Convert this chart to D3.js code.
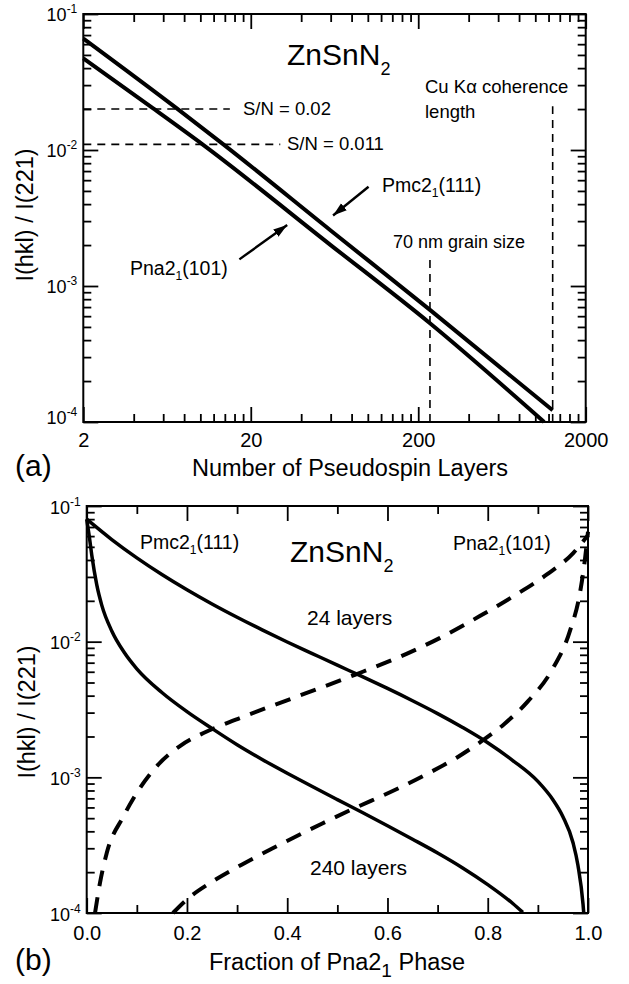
<!DOCTYPE html>
<html>
<head>
<meta charset="utf-8">
<script src="https://cdn.jsdelivr.net/npm/d3@7"></script>
<style>
	body { margin: 0; background: #fff; }
	svg text { font-family: "Liberation Sans", Arial, sans-serif; fill: #000; }
</style>
</head>
<body>
<svg id="fig" width="629" height="984"></svg>
<script>
// ---- (a) I(hkl)/I(221) vs number of pseudospin layers
const pmcLayers = [2, 7.2, 13.6, 60, 235, 1270];
const pmcRatio  = [0.066, 0.0203, 0.0111, 0.00256, 0.000667, 0.000122];
const pnaLayers = [2, 5.2, 10.3, 60, 235, 1130];
const pnaRatio  = [0.0472, 0.0203, 0.011, 0.0020, 0.000532, 0.0001];

const snLevels = [0.02, 0.011];
const snLabels = ["S/N = 0.02", "S/N = 0.011"];
const snEnds   = [15, 30];

const grainLayers     = 235;   // 70 nm grain size
const grainTop        = 0.00155;
const coherenceLayers = 1270;  // Cu K-alpha coherence length
const coherenceTop    = 0.021;

const layerTicks  = [2, 20, 200, 2000];
const ratioTicks  = [1e-4, 1e-3, 1e-2, 1e-1];
const ratioExps   = ["-4", "-3", "-2", "-1"];

// ---- (b) I(hkl)/I(221) vs fraction of Pna21 phase
const fracPmc24 = [0, 0.05, 0.1, 0.15, 0.2, 0.25, 0.3, 0.35, 0.4, 0.45, 0.5, 0.55, 0.6, 0.65, 0.7, 0.75, 0.8, 0.85, 0.9, 0.93, 0.95, 0.97, 0.98, 0.99, 0.9915];
const pmc24     = [0.0800, 0.0566, 0.0415, 0.0313, 0.02415, 0.01897, 0.01514, 0.01222, 0.00995, 0.00817, 0.00671, 0.00552, 0.00452, 0.00367, 0.00295, 0.00233, 0.0018, 0.00133, 0.000933, 0.000684, 0.000513, 0.000331, 0.000224, 0.000117, 0.0001];

const fracPmc240 = [0, 0.005, 0.01, 0.02, 0.03, 0.05, 0.075, 0.1, 0.15, 0.2, 0.25, 0.3, 0.35, 0.4, 0.45, 0.5, 0.55, 0.6, 0.65, 0.7, 0.75, 0.8, 0.85, 0.87];
const pmc240     = [0.0800, 0.0603, 0.0437, 0.0263, 0.0186, 0.0120, 0.00832, 0.00631, 0.00422, 0.00305, 0.00229, 0.00174, 0.001355, 0.001072, 0.000855, 0.000685, 0.00055, 0.00044, 0.00035, 0.000277, 0.000215, 0.000162, 0.0001175, 0.000101];

const fracPna24 = [0.0166, 0.0265, 0.040, 0.073, 0.0997, 0.14, 0.186, 0.233, 0.27, 0.306, 0.372, 0.439, 0.535, 0.638, 0.705, 0.785, 0.851, 0.918, 0.971, 1.0];
const pna24     = [0.0001, 0.0001667, 0.000277, 0.000513, 0.000766, 0.00121, 0.0017, 0.00212, 0.00243, 0.00274, 0.00339, 0.00419, 0.0057, 0.00813, 0.01067, 0.0155, 0.0216, 0.0313, 0.0452, 0.061];

const fracPna240 = [0.172, 0.2, 0.25, 0.31, 0.37, 0.47, 0.535, 0.605, 0.671, 0.738, 0.789, 0.832, 0.88, 0.928, 0.964, 0.984, 0.994, 1.0];
const pna240     = [0.0001, 0.0001259, 0.00017, 0.000228, 0.0002985, 0.000457, 0.000594, 0.000776, 0.001023, 0.001396, 0.001862, 0.002455, 0.00363, 0.00617, 0.01202, 0.0229, 0.0407, 0.0646];

const fracTicks = [0, 0.2, 0.4, 0.6, 0.8, 1.0];
const fracMinor = [0.1, 0.3, 0.5, 0.7, 0.9];

const zip = (xs, ys) => xs.map((v, i) => [v, ys[i]]);

const logMinors = (lo, hi, base) => {
	let out = [];
	for (let d = lo; d < hi; d *= 10)
		for (let m = 2; m <= 9; m++) out.push(d * m * (base || 1));
	return out;
};

const svg = d3.select("#fig");

svg.append("defs").append("marker")
	.attr("id", "head")
	.attr("viewBox", "0 -5 14 10")
	.attr("refX", 14)
	.attr("refY", 0)
	.attr("markerUnits", "userSpaceOnUse")
	.attr("markerWidth", 14)
	.attr("markerHeight", 10)
	.attr("orient", "auto")
	.append("path")
	.attr("d", "M0,-4.5L14,0L0,4.5Z")
	.attr("fill", "#000");

// Box with inward ticks on all four sides
const Frame = ({ x, y, xMajor, xMinor, xFormat, xLabelY, yLabelDy }) => g => {
	const [x0, x1] = x.range();
	const [y0, y1] = y.range();

	const put = (axis, t, vals, size, fmt) => g.append("g")
		.attr("transform", t)
		.call(axis.tickValues(vals).tickSizeInner(-size).tickSizeOuter(0).tickFormat(fmt || (() => "")))
		.call(a => a.select(".domain").remove())
		.call(a => a.selectAll("line").attr("stroke-width", 1.8));

	const yMinor = logMinors(1e-4, 1e-1);

	let bx = put(d3.axisBottom(x), `translate(0,${y0})`, xMajor, 15, xFormat);
	bx.attr("font-family", null);
	bx.selectAll("text")
		.attr("font-size", 20)
		.attr("dy", null)
		.attr("y", xLabelY);
	put(d3.axisBottom(x), `translate(0,${y0})`, xMinor, 8);
	put(d3.axisTop(x), `translate(0,${y1})`, xMajor, 15);
	put(d3.axisTop(x), `translate(0,${y1})`, xMinor, 8);

	let ly = put(d3.axisLeft(y), `translate(${x0},0)`, ratioTicks, 15, d => d);
	ly.attr("font-family", null);
	ly.selectAll("text").each(function(d, i) {
		const t = d3.select(this)
			.text("")
			.attr("x", -6)
			.attr("dy", yLabelDy(i))
			.attr("font-size", 18);
		t.append("tspan").text("10");
		t.append("tspan").text(ratioExps[i]).attr("font-size", 12).attr("dy", -8);
	});
	put(d3.axisLeft(y), `translate(${x0},0)`, yMinor, 8);
	put(d3.axisRight(y), `translate(${x1},0)`, ratioTicks, 15);
	put(d3.axisRight(y), `translate(${x1},0)`, yMinor, 8);

	g.append("rect")
		.attr("x", x0).attr("y", y1)
		.attr("width", x1 - x0).attr("height", y0 - y1)
		.attr("fill", "none")
		.attr("stroke", "#000")
		.attr("stroke-width", 2);
	return g;
};

const Curve = ({ x, y, data, width, dash }) => path => path
	.attr("d", d3.line().x(d => x(d[0])).y(d => y(d[1])).curve(d3.curveMonotoneX)(data))
	.attr("fill", "none")
	.attr("stroke", "#000")
	.attr("stroke-width", width)
	.attr("stroke-dasharray", dash || null);

const Label = ({ x, y, text, sub, rest, size, subSize, subDy, anchor }) => t => {
	t.attr("x", x).attr("y", y)
		.attr("font-size", size)
		.attr("text-anchor", anchor || "start")
		.text(text);
	if (sub) {
		t.append("tspan").text(sub).attr("font-size", subSize).attr("dy", subDy);
		if (rest) t.append("tspan").text(rest).attr("dy", -subDy);
	}
	return t;
};

// ================= panel (a)
const xa = d3.scaleLog().domain([2, 2000]).range([83.3, 585.7]);
const ya = d3.scaleLog().domain([1e-4, 1e-1]).range([422, 14]);
const ga = svg.append("g").attr("class", "panel-a");

ga.append("g").call(Frame({
	x: xa, y: ya,
	xMajor: layerTicks,
	xMinor: logMinors(1, 1000, 2).filter(v => v < 2000),
	xFormat: d => d,
	xLabelY: 25,
	yLabelDy: i => i == 0 ? 1 : 6,
}));

snLevels.forEach((s, i) => {
	ga.append("line")
		.attr("x1", xa(2)).attr("x2", xa(snEnds[i]))
		.attr("y1", ya(s)).attr("y2", ya(s))
		.attr("stroke", "#000").attr("stroke-width", 1.6)
		.attr("stroke-dasharray", "8,6");
});

[[grainLayers, grainTop], [coherenceLayers, coherenceTop]].forEach(([n, top]) => {
	ga.append("line")
		.attr("x1", xa(n)).attr("x2", xa(n))
		.attr("y1", ya(1e-4)).attr("y2", ya(top))
		.attr("stroke", "#000").attr("stroke-width", 1.6)
		.attr("stroke-dasharray", "8,6");
});

ga.append("path").call(Curve({ x: xa, y: ya, data: zip(pmcLayers, pmcRatio), width: 4 }));
ga.append("path").call(Curve({ x: xa, y: ya, data: zip(pnaLayers, pnaRatio), width: 4 }));

// arrows pointing at the two curves
[[[101, 5.37e-3], [62, 3.3e-3]], [[17.1, 1.57e-3], [33, 2.81e-3]]].forEach(([a, b]) => {
	ga.append("line")
		.attr("x1", xa(a[0])).attr("y1", ya(a[1]))
		.attr("x2", xa(b[0])).attr("y2", ya(b[1]))
		.attr("stroke", "#000").attr("stroke-width", 2.4)
		.attr("marker-end", "url(#head)");
});

ga.append("text").call(Label({ x: 287, y: 65, text: "ZnSnN", sub: "2", size: 30, subSize: 18, subDy: 10 }));
ga.append("text").call(Label({ x: 243, y: 115, text: snLabels[0], size: 18.5 }));
ga.append("text").call(Label({ x: 287, y: 150, text: snLabels[1], size: 18.5 }));
ga.append("text").call(Label({ x: 425, y: 93, text: "Cu K\u03b1 coherence", size: 18.5 }));
ga.append("text").call(Label({ x: 425, y: 118, text: "length", size: 18.5 }));
ga.append("text").call(Label({ x: 382, y: 192, text: "Pmc2", sub: "1", rest: "(111)", size: 19.5, subSize: 12, subDy: 5 }));
ga.append("text").call(Label({ x: 130, y: 275, text: "Pna2", sub: "1", rest: "(101)", size: 19.5, subSize: 12, subDy: 5 }));
ga.append("text").call(Label({ x: 393, y: 248, text: "70 nm grain size", size: 18 }));

ga.append("text").call(Label({ x: 350, y: 476, text: "Number of Pseudospin Layers", size: 23.5, anchor: "middle" }));
ga.append("text").call(Label({ x: 15, y: 476, text: "(a)", size: 30 }));
ga.append("text")
	.attr("transform", "translate(33,215) rotate(-90)")
	.attr("text-anchor", "middle")
	.attr("font-size", 23.5)
	.text("I(hkl) / I(221)");

// ================= panel (b)
const xb = d3.scaleLinear().domain([0, 1]).range([86.7, 588]);
const yb = d3.scaleLog().domain([1e-4, 1e-1]).range([913, 506]);
const gb = svg.append("g").attr("class", "panel-b");

gb.append("g").call(Frame({
	x: xb, y: yb,
	xMajor: fracTicks,
	xMinor: fracMinor,
	xFormat: d3.format(".1f"),
	xLabelY: 27,
	yLabelDy: () => 7,
}));

gb.append("path").call(Curve({ x: xb, y: yb, data: zip(fracPmc24, pmc24), width: 3.5 }));
gb.append("path").call(Curve({ x: xb, y: yb, data: zip(fracPmc240, pmc240), width: 3.5 }));
gb.append("path").call(Curve({ x: xb, y: yb, data: zip(fracPna24, pna24), width: 4, dash: "16,11" }));
gb.append("path").call(Curve({ x: xb, y: yb, data: zip(fracPna240, pna240), width: 4, dash: "16,11" }));

gb.append("text").call(Label({ x: 140, y: 549, text: "Pmc2", sub: "1", rest: "(111)", size: 19.5, subSize: 12, subDy: 5 }));
gb.append("text").call(Label({ x: 290, y: 562, text: "ZnSnN", sub: "2", size: 30, subSize: 18, subDy: 10 }));
gb.append("text").call(Label({ x: 453, y: 550, text: "Pna2", sub: "1", rest: "(101)", size: 19.5, subSize: 12, subDy: 5 }));
gb.append("text").call(Label({ x: 307, y: 625, text: "24 layers", size: 21 }));
gb.append("text").call(Label({ x: 310, y: 875, text: "240 layers", size: 21 }));

gb.append("text").call(Label({ x: 337, y: 970, text: "Fraction of Pna2", sub: "1", rest: " Phase", size: 23.5, subSize: 19, subDy: 7, anchor: "middle" }));
gb.append("text").call(Label({ x: 15, y: 970, text: "(b)", size: 30 }));
gb.append("text")
	.attr("transform", "translate(35,712) rotate(-90)")
	.attr("text-anchor", "middle")
	.attr("font-size", 23.5)
	.text("I(hkl) / I(221)");
</script>
</body>
</html>
